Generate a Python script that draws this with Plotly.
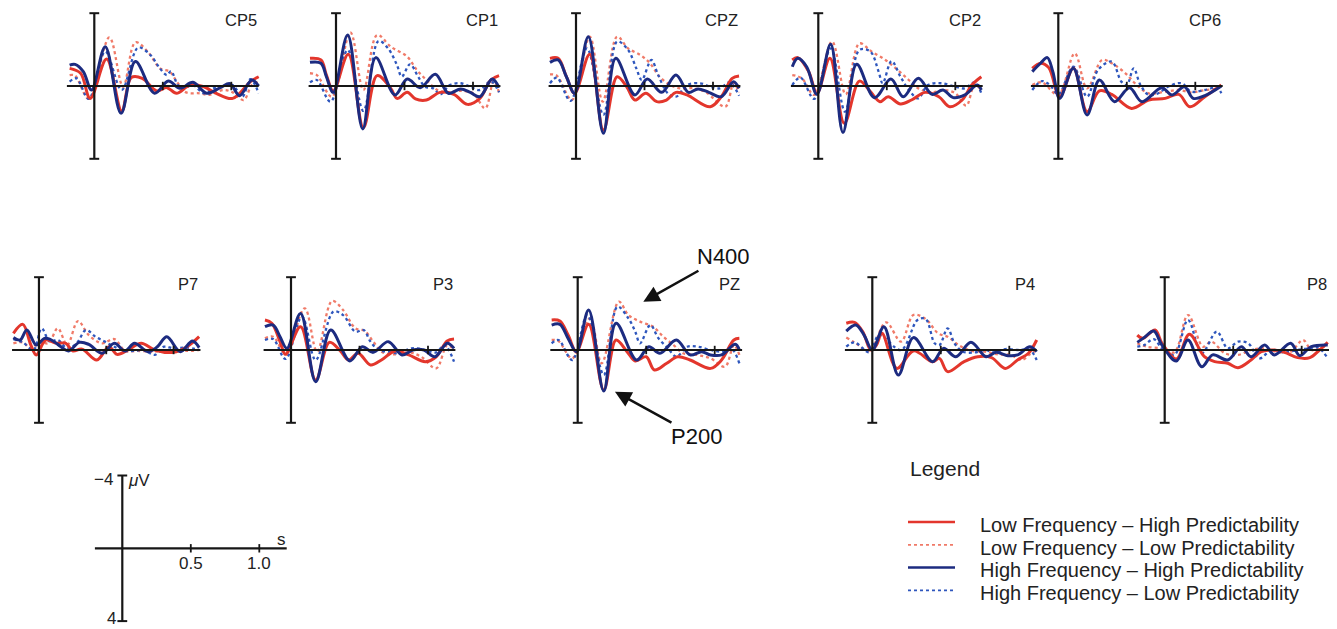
import plotly.graph_objects as go

# ================= DATA =================
# Each series: (time in s, amplitude in µV) key points.
# Negative amplitudes are plotted upward (ERP convention).
CP5_LFHP = [(-0.18,-0.97),(-0.10,-0.70),(-0.03,0.68),(0.09,-1.48),(0.20,1.37),(0.27,-0.46),(0.35,-0.42),(0.455,0.27),(0.53,0.09),(0.60,0.40),(0.70,-0.05),(0.80,0.04),(0.89,0.40),(1.01,0.68),(1.14,-0.24),(1.20,-0.51)]
CP5_LFLP = [(-0.18,-0.60),(-0.14,-0.57),(-0.04,0.71),(0.11,-2.67),(0.21,0.04),(0.30,-2.40),(0.39,-1.89),(0.48,-0.97),(0.55,-0.79),(0.61,-0.15),(0.67,0.35),(0.77,0.40),(0.84,0.49),(0.94,0.22),(1.01,0.35),(1.09,0.77),(1.15,-0.05),(1.20,-0.24)]
CP5_HFHP = [(-0.18,-1.15),(-0.14,-1.19),(-0.08,-0.79),(-0.02,0.22),(0.08,-2.16),(0.195,1.50),(0.30,-1.34),(0.44,0.40),(0.54,-0.27),(0.625,0.13),(0.72,-0.20),(0.82,0.40),(0.92,0.09),(0.99,-0.13),(1.06,0.53),(1.15,-0.33),(1.20,0.0)]
CP5_HFLP = [(-0.18,-0.24),(-0.13,-0.42),(-0.04,0.71),(0.08,-1.89),(0.20,0.22),(0.32,-2.11),(0.41,-1.70),(0.47,-1.06),(0.53,-0.60),(0.56,-0.82),(0.61,-0.05),(0.65,0.13),(0.72,-0.05),(0.80,0.40),(0.87,0.13),(0.94,0.02),(1.01,-0.05),(1.08,0.59),(1.14,-0.38),(1.20,0.40)]

CP1_LFHP = [(-0.19,-1.52),(-0.11,-1.43),(-0.07,-0.60),(-0.02,0.27),(0.09,-1.74),(0.20,2.29),(0.30,-0.57),(0.40,0.13),(0.445,0.68),(0.52,0.35),(0.58,0.71),(0.66,0.77),(0.76,0.35),(0.86,0.46),(0.96,1.01),(1.05,0.68),(1.13,-0.33),(1.19,-0.57)]
CP1_LFLP = [(-0.19,-0.70),(-0.14,-0.60),(-0.03,0.59),(0.105,-2.95),(0.20,0.22),(0.30,-2.80),(0.40,-2.16),(0.52,-1.61),(0.59,-0.88),(0.66,-0.33),(0.74,0.22),(0.81,0.35),(0.91,0.27),(1.00,0.40),(1.09,1.23),(1.15,-0.24),(1.19,0.35)]
CP1_HFHP = [(-0.19,-1.30),(-0.11,-1.25),(-0.07,-0.51),(-0.02,0.35),(0.085,-2.80),(0.195,2.36),(0.29,-1.56),(0.43,0.49),(0.52,-0.38),(0.615,0.09),(0.725,-0.64),(0.82,0.40),(0.91,0.16),(0.98,0.35),(1.05,0.59),(1.14,-0.38),(1.19,0.09)]
CP1_HFLP = [(-0.19,-0.20),(-0.14,-0.33),(-0.04,0.86),(0.085,-1.98),(0.20,1.37),(0.31,-2.47),(0.38,-2.07),(0.445,-1.15),(0.48,-0.51),(0.54,-1.19),(0.60,-0.51),(0.65,0.04),(0.71,0.13),(0.76,0.46),(0.83,-0.05),(0.91,-0.15),(0.98,0.04),(1.05,0.22),(1.13,-0.27),(1.19,0.35)]

CPZ_LFHP = [(-0.19,-1.52),(-0.13,-1.52),(-0.07,-0.51),(-0.01,0.40),(0.10,-1.74),(0.20,2.42),(0.30,-0.51),(0.37,0.04),(0.43,0.77),(0.51,0.40),(0.59,0.86),(0.66,0.77),(0.73,0.35),(0.81,0.49),(0.98,1.14),(1.06,0.59),(1.14,-0.42),(1.19,-0.55)]
CPZ_LFLP = [(-0.19,-0.64),(-0.14,-0.57),(-0.03,0.77),(0.10,-2.71),(0.195,0.86),(0.30,-2.71),(0.38,-2.07),(0.47,-1.70),(0.54,-1.25),(0.61,-0.51),(0.69,-0.05),(0.76,0.13),(0.86,0.13),(0.95,0.35),(1.09,1.14),(1.15,-0.15),(1.19,0.35)]
CPZ_HFHP = [(-0.19,-1.30),(-0.13,-1.43),(-0.07,-0.51),(-0.01,0.40),(0.09,-2.71),(0.20,2.60),(0.29,-1.52),(0.43,0.49),(0.52,-0.38),(0.625,0.35),(0.73,-0.60),(0.82,0.35),(0.89,0.16),(0.97,0.35),(1.06,0.59),(1.15,-0.24),(1.19,0.13)]
CPZ_HFLP = [(-0.19,-0.15),(-0.14,-0.46),(-0.04,0.82),(0.08,-2.07),(0.20,1.59),(0.30,-2.44),(0.38,-1.98),(0.44,-0.97),(0.48,-0.33),(0.55,-1.43),(0.60,-0.60),(0.67,0.40),(0.73,0.59),(0.81,-0.05),(0.905,-0.15),(0.98,0.04),(1.05,0.13),(1.12,-0.20),(1.19,0.53)]

CP2_LFHP = [(-0.19,-1.43),(-0.15,-1.56),(-0.07,-0.79),(-0.01,0.40),(0.085,-1.52),(0.19,2.05),(0.30,-0.27),(0.38,0.31),(0.45,0.86),(0.51,0.59),(0.60,0.99),(0.68,0.77),(0.78,0.35),(0.88,0.59),(0.96,1.14),(1.05,0.77),(1.12,-0.05),(1.19,-0.51)]
CP2_LFLP = [(-0.19,-0.60),(-0.12,-0.42),(-0.03,0.49),(0.10,-2.44),(0.20,0.46),(0.30,-2.34),(0.39,-1.89),(0.49,-1.43),(0.58,-0.88),(0.66,-0.33),(0.73,0.13),(0.83,0.35),(0.92,0.22),(1.00,0.40),(1.08,1.08),(1.14,-0.05),(1.19,0.22)]
CP2_HFHP = [(-0.19,-1.06),(-0.15,-1.52),(-0.085,-1.06),(-0.01,0.46),(0.09,-2.29),(0.18,2.55),(0.28,-1.19),(0.41,0.64),(0.53,-0.38),(0.62,0.59),(0.73,-0.42),(0.83,0.46),(0.91,0.22),(0.985,0.64),(1.07,0.49),(1.16,-0.05),(1.19,0.22)]
CP2_HFLP = [(-0.19,-0.05),(-0.13,-0.46),(-0.03,0.71),(0.09,-2.07),(0.195,1.41),(0.30,-1.98),(0.38,-1.89),(0.44,-0.79),(0.47,-0.15),(0.535,-1.37),(0.60,-0.51),(0.67,0.31),(0.73,0.68),(0.80,-0.05),(0.90,-0.15),(1.00,0.04),(1.07,0.13),(1.14,-0.20),(1.19,0.40)]

CP6_LFHP = [(-0.19,-0.97),(-0.13,-1.25),(-0.07,-1.01),(0.01,0.59),(0.11,-0.97),(0.21,1.41),(0.30,0.27),(0.39,0.46),(0.535,1.23),(0.66,0.77),(0.78,0.68),(0.88,0.46),(0.96,1.14),(1.07,0.59),(1.19,-0.05)]
CP6_LFLP = [(-0.19,-0.05),(-0.12,-0.20),(0.0,0.49),(0.12,-1.79),(0.21,0.13),(0.32,-1.43),(0.39,-1.25),(0.49,-0.70),(0.56,-0.15),(0.66,0.40),(0.78,0.31),(0.88,0.22),(0.97,0.35),(1.07,0.22),(1.16,0.13),(1.19,-0.05)]
CP6_HFHP = [(-0.19,-0.79),(-0.13,-1.25),(-0.08,-1.56),(-0.04,-0.79),(0.01,0.68),(0.11,-0.97),(0.21,1.59),(0.30,-0.33),(0.41,0.86),(0.52,0.09),(0.61,0.86),(0.755,0.09),(0.83,0.49),(0.92,0.04),(0.985,0.68),(1.07,0.53),(1.19,0.0)]
CP6_HFLP = [(-0.19,0.22),(-0.12,-0.27),(-0.06,-0.05),(0.0,0.46),(0.11,-1.06),(0.21,0.59),(0.29,-0.88),(0.39,-1.34),(0.46,-0.24),(0.50,-0.05),(0.55,-0.97),(0.60,-0.05),(0.66,0.49),(0.73,0.40),(0.80,0.04),(0.90,-0.15),(0.97,0.31),(1.07,0.22),(1.16,0.09),(1.19,0.40)]

P7_LFHP = [(-0.19,-0.92),(-0.12,-1.41),(-0.06,-0.27),(-0.02,0.27),(0.05,-0.55),(0.13,-0.37),(0.20,-0.37),(0.25,0.05),(0.32,-0.05),(0.43,0.55),(0.52,-0.18),(0.58,0.24),(0.66,0.0),(0.76,-0.37),(0.86,0.0),(1.00,0.13),(1.10,-0.18),(1.19,-0.73)]
P7_LFLP = [(-0.19,-0.37),(-0.12,-0.42),(-0.06,-0.09),(0.005,-0.46),(0.07,-0.37),(0.14,-1.19),(0.21,-0.27),(0.29,-1.59),(0.37,-0.82),(0.47,-0.37),(0.56,-0.60),(0.64,0.05),(0.73,0.05),(0.86,0.09),(1.00,0.0),(1.10,0.05),(1.19,0.0)]
P7_HFHP = [(-0.19,-0.68),(-0.14,-0.55),(-0.09,-1.10),(-0.02,-0.27),(0.04,-0.64),(0.08,-0.60),(0.14,-0.31),(0.22,0.05),(0.30,-0.42),(0.37,-0.31),(0.47,0.18),(0.56,-0.37),(0.64,0.05),(0.71,-0.37),(0.81,0.09),(0.88,-0.18),(0.95,-0.73),(1.05,0.09),(1.14,-0.49),(1.19,-0.13)]
P7_HFLP = [(-0.19,-0.60),(-0.12,-0.42),(-0.04,0.0),(0.02,-1.19),(0.08,-0.46),(0.14,-0.55),(0.21,-0.09),(0.28,-0.37),(0.35,-1.10),(0.42,-0.73),(0.49,-0.46),(0.56,-0.18),(0.64,0.05),(0.71,0.05),(0.78,0.0),(0.86,0.27),(0.93,-0.18),(1.00,-0.09),(1.10,-0.13),(1.19,0.0)]

P3_LFHP = [(-0.19,-1.65),(-0.14,-1.47),(-0.08,-0.46),(-0.04,0.24),(0.07,-1.28),(0.18,1.65),(0.28,-0.42),(0.36,0.05),(0.42,0.55),(0.49,0.18),(0.58,0.82),(0.66,0.55),(0.76,0.05),(0.86,0.27),(0.98,0.64),(1.06,0.37),(1.14,-0.49),(1.19,-0.60)]
P3_LFLP = [(-0.19,-0.64),(-0.13,-0.73),(-0.04,0.18),(0.10,-2.29),(0.19,0.09),(0.30,-2.69),(0.38,-2.20),(0.47,-1.19),(0.54,-1.04),(0.60,-0.46),(0.67,0.13),(0.76,0.24),(0.86,0.13),(0.95,0.37),(1.06,1.01),(1.14,-0.27),(1.19,0.0)]
P3_HFHP = [(-0.19,-1.28),(-0.13,-1.37),(-0.08,-0.73),(-0.03,-0.09),(0.07,-2.01),(0.18,1.74),(0.29,-1.10),(0.43,0.60),(0.52,-0.18),(0.60,0.13),(0.71,-0.46),(0.81,0.27),(0.89,0.0),(0.97,0.0),(1.05,0.37),(1.14,-0.37),(1.19,-0.09)]
P3_HFLP = [(-0.19,-0.55),(-0.13,-0.60),(-0.04,0.49),(0.08,-1.83),(0.18,0.55),(0.31,-2.11),(0.38,-1.92),(0.47,-1.01),(0.53,-1.10),(0.58,-0.46),(0.64,0.0),(0.71,0.09),(0.78,0.18),(0.88,-0.09),(0.98,0.0),(1.06,0.13),(1.12,-0.27),(1.19,0.64)]

PZ_LFHP = [(-0.19,-1.65),(-0.13,-1.59),(-0.07,-0.82),(-0.01,0.09),(0.08,-1.41),(0.19,2.20),(0.28,-0.55),(0.36,0.09),(0.42,0.60),(0.50,0.37),(0.56,1.10),(0.65,0.73),(0.73,0.37),(0.82,0.55),(0.97,1.01),(1.05,0.55),(1.14,-0.55),(1.18,-0.64)]
PZ_LFLP = [(-0.19,-0.55),(-0.14,-0.49),(-0.04,0.46),(0.09,-1.74),(0.175,0.73),(0.30,-2.66),(0.37,-1.92),(0.455,-1.56),(0.55,-1.28),(0.625,-0.73),(0.70,-0.27),(0.77,0.18),(0.87,0.27),(0.97,0.46),(1.075,0.92),(1.14,-0.27),(1.18,0.27)]
PZ_HFHP = [(-0.19,-1.37),(-0.13,-1.41),(-0.07,-0.64),(-0.01,0.09),(0.08,-2.20),(0.19,2.25),(0.28,-1.47),(0.43,0.55),(0.52,-0.18),(0.60,0.18),(0.72,-0.55),(0.82,0.27),(0.905,0.09),(0.97,0.27),(1.05,0.27),(1.15,-0.31),(1.18,0.0)]
PZ_HFLP = [(-0.19,-0.37),(-0.14,-0.55),(-0.04,0.55),(0.07,-1.92),(0.19,1.37),(0.29,-2.38),(0.37,-1.74),(0.42,-1.01),(0.455,-0.37),(0.53,-1.37),(0.59,-0.64),(0.66,-0.09),(0.72,0.37),(0.80,-0.18),(0.88,-0.18),(0.97,0.0),(1.05,0.09),(1.12,-0.09),(1.18,0.73)]

P4_LFHP = [(-0.19,-1.47),(-0.13,-1.52),(-0.07,-1.01),(-0.01,0.0),(0.03,-0.27),(0.07,-0.92),(0.18,1.01),(0.30,0.05),(0.44,0.64),(0.49,0.46),(0.55,1.19),(0.67,0.64),(0.77,0.37),(0.87,0.42),(0.97,1.01),(1.06,0.55),(1.14,0.18),(1.20,-0.55)]
P4_LFLP = [(-0.19,-0.68),(-0.13,-0.42),(-0.02,0.05),(0.10,-1.52),(0.21,-0.46),(0.30,-1.92),(0.39,-1.70),(0.48,-0.92),(0.55,-0.73),(0.63,-0.27),(0.72,0.05),(0.82,0.09),(0.92,0.24),(1.01,0.27),(1.09,0.55),(1.15,0.24),(1.20,0.0)]
P4_HFHP = [(-0.19,-1.04),(-0.12,-1.37),(-0.06,-0.82),(0.0,0.0),(0.085,-1.28),(0.19,1.37),(0.30,-0.68),(0.44,0.64),(0.52,-0.09),(0.61,0.37),(0.72,-0.42),(0.83,0.37),(0.905,0.13),(0.99,0.31),(1.06,0.27),(1.15,-0.18),(1.20,0.09)]
P4_HFLP = [(-0.19,-0.18),(-0.13,-0.42),(-0.02,0.13),(0.05,-0.82),(0.21,0.0),(0.33,-1.65),(0.39,-1.70),(0.455,-0.37),(0.49,-0.27),(0.55,-1.19),(0.60,-0.37),(0.66,0.09),(0.75,0.13),(0.82,0.0),(0.89,0.13),(0.97,-0.05),(1.06,0.0),(1.15,0.0),(1.20,0.55)]

P8_LFHP = [(-0.20,-0.82),(-0.16,-0.64),(-0.07,-1.10),(-0.02,-0.37),(0.085,0.49),(0.18,-0.86),(0.29,0.37),(0.365,0.64),(0.46,0.73),(0.535,0.97),(0.63,0.55),(0.705,0.09),(0.80,0.0),(0.875,0.13),(0.97,0.42),(1.06,0.42),(1.13,0.0),(1.19,-0.42)]
P8_LFLP = [(-0.20,-0.37),(-0.13,-0.18),(-0.02,-0.09),(0.07,0.13),(0.17,-1.92),(0.28,-0.18),(0.34,-0.46),(0.44,0.18),(0.535,0.27),(0.63,0.0),(0.73,-0.09),(0.83,0.13),(0.92,0.09),(1.01,-0.55),(1.07,0.0),(1.13,-0.09),(1.19,-0.27)]
P8_HFHP = [(-0.20,-0.42),(-0.15,-0.68),(-0.08,-1.04),(-0.02,-0.27),(0.085,0.60),(0.17,-0.55),(0.27,0.92),(0.35,0.27),(0.46,0.55),(0.56,-0.18),(0.63,0.37),(0.73,-0.27),(0.80,0.27),(0.92,-0.37),(0.985,0.31),(1.07,-0.18),(1.19,-0.27)]
P8_HFLP = [(-0.20,-0.18),(-0.15,-0.27),(-0.08,-0.60),(-0.02,-0.09),(0.07,0.27),(0.17,-1.65),(0.27,0.18),(0.38,-1.01),(0.46,-0.09),(0.535,-0.46),(0.61,-0.37),(0.69,0.46),(0.78,0.0),(0.875,0.13),(0.97,0.0),(1.05,-0.09),(1.12,-0.13),(1.19,0.46)]

CONDITIONS = [
    "Low Frequency – High Predictability",
    "Low Frequency – Low Predictability",
    "High Frequency – High Predictability",
    "High Frequency – Low Predictability",
]
CHANNELS = ["CP5", "CP1", "CPZ", "CP2", "CP6", "P7", "P3", "PZ", "P4", "P8"]
SERIES = {
    "CP5": [CP5_LFHP, CP5_LFLP, CP5_HFHP, CP5_HFLP],
    "CP1": [CP1_LFHP, CP1_LFLP, CP1_HFHP, CP1_HFLP],
    "CPZ": [CPZ_LFHP, CPZ_LFLP, CPZ_HFHP, CPZ_HFLP],
    "CP2": [CP2_LFHP, CP2_LFLP, CP2_HFHP, CP2_HFLP],
    "CP6": [CP6_LFHP, CP6_LFLP, CP6_HFHP, CP6_HFLP],
    "P7": [P7_LFHP, P7_LFLP, P7_HFHP, P7_HFLP],
    "P3": [P3_LFHP, P3_LFLP, P3_HFHP, P3_HFLP],
    "PZ": [PZ_LFHP, PZ_LFLP, PZ_HFHP, PZ_HFLP],
    "P4": [P4_LFHP, P4_LFLP, P4_HFHP, P4_HFLP],
    "P8": [P8_LFHP, P8_LFLP, P8_HFHP, P8_HFLP],
}
TIME_LIMITS = [-0.2, 1.2]      # s, extent of the time axis
AMP_LIMITS = [-4, 4]           # µV, extent of the amplitude axis
TIME_TICKS = [0.5, 1.0]
TIME_TICK_LABELS = ["0.5", "1.0"]
COMPONENTS = [("N400", 0.479, -2.65), ("P200", 0.272, 2.29)]   # label, time, amplitude (PZ)

# ================= STYLE / LAYOUT =================
PAGE_W, PAGE_H = 1337, 629
BODY_MARGIN = 8                       # default page margin around the plot div
W, H = PAGE_W - BODY_MARGIN, PAGE_H - BODY_MARGIN
S_PX = 137.0      # pixels per second
UV_PX = 18.2      # pixels per µV
PAD_T = 0.03
PAD_V = 0.15
ORIGINS = {  # page-pixel position of (0 s, 0 µV) of each panel
    "CP5": (94.3, 86.0), "CP1": (336.0, 86.0), "CPZ": (576.0, 86.0),
    "CP2": (818.3, 86.0), "CP6": (1058.3, 86.0),
    "P7": (36.0, 350.0), "P3": (291.0, 350.0), "PZ": (577.7, 350.0),
    "P4": (872.3, 350.0), "P8": (1164.7, 350.0),
}
SCALE_ORIGIN = (122.3, 548.3)
COLORS = ["#e3362c", "#f07a68", "#1c2b80", "#2e56bd"]
DASHES = ["solid", "dot", "solid", "dot"]
WIDTHS = [3.0, 2.3, 3.0, 2.3]
DRAW_ORDER = [1, 3, 0, 2]
AX_COLOR = "#161616"
FONT = "Liberation Sans, Arial, Helvetica, sans-serif"


def clamp(v):
    return min(1.0, max(0.0, v))


def px_x(px):
    return clamp((px - BODY_MARGIN) / W)


def px_y(py):
    return clamp(1 - (py - BODY_MARGIN) / H)


fig = go.Figure()
layout = {}
annotations = []


def make_axes(idx, origin):
    ox, oy = origin
    t0, t1 = TIME_LIMITS[0] - PAD_T, TIME_LIMITS[1] + PAD_T
    v = AMP_LIMITS[1] + PAD_V
    sfx = "" if idx == 1 else str(idx)
    layout["xaxis" + sfx] = dict(domain=[px_x(ox + t0 * S_PX), px_x(ox + t1 * S_PX)],
                                 range=[t0, t1], visible=False, fixedrange=True, anchor="y" + sfx)
    layout["yaxis" + sfx] = dict(domain=[px_y(oy + v * UV_PX), px_y(oy - v * UV_PX)],
                                 range=[v, -v], visible=False, fixedrange=True, anchor="x" + sfx)
    return "x" + sfx, "y" + sfx


def add_axis_cross(xa, ya):
    common = dict(xaxis=xa, yaxis=ya, hoverinfo="skip", showlegend=False, cliponaxis=False)
    fig.add_trace(go.Scatter(x=TIME_LIMITS, y=[0, 0], mode="lines",
                             line=dict(color=AX_COLOR, width=2.2), **common))
    fig.add_trace(go.Scatter(x=[0, 0], y=AMP_LIMITS, mode="lines",
                             line=dict(color=AX_COLOR, width=2.2), **common))
    fig.add_trace(go.Scatter(x=[0, 0], y=AMP_LIMITS, mode="markers",
                             marker=dict(symbol="line-ew", size=7, line=dict(width=2, color=AX_COLOR)), **common))
    fig.add_trace(go.Scatter(x=TIME_TICKS, y=[0] * len(TIME_TICKS), mode="markers",
                             marker=dict(symbol="line-ns", size=6, line=dict(width=1.8, color=AX_COLOR)), **common))


for i, ch in enumerate(CHANNELS):
    xa, ya = make_axes(i + 1, ORIGINS[ch])
    for k in DRAW_ORDER:
        pts = SERIES[ch][k]
        fig.add_trace(go.Scatter(
            x=[p[0] for p in pts], y=[p[1] for p in pts], mode="lines",
            line=dict(color=COLORS[k], width=WIDTHS[k], dash=DASHES[k], shape="spline", smoothing=1.0),
            name=CONDITIONS[k], xaxis=xa, yaxis=ya, showlegend=False, hoverinfo="skip"))
    add_axis_cross(xa, ya)
    annotations.append(dict(text=ch, x=TIME_LIMITS[1], y=-3.62, xref=xa, yref=ya,
                            xanchor="right", yanchor="middle", showarrow=False,
                            font=dict(size=16.5, color="#222", family=FONT)))
    if ch == "PZ":
        for (lab, tt, vv), (dx, dy) in zip(COMPONENTS, [(80, -45), (82, 45)]):
            annotations.append(dict(text=lab, x=tt, y=vv, xref=xa, yref=ya, ax=dx, ay=dy,
                                    showarrow=True, arrowhead=2, arrowsize=1.3, arrowwidth=2.5,
                                    arrowcolor="#111", font=dict(size=22, color="#111", family=FONT)))

# ---- scale bar ----
sx, sy = make_axes(11, SCALE_ORIGIN)
add_axis_cross(sx, sy)
lab_font = dict(size=17, color="#222", family=FONT)
annotations += [
    dict(text="−4", x=-0.05, y=AMP_LIMITS[0] + 0.2, xref=sx, yref=sy, xanchor="right", yanchor="middle", showarrow=False, font=lab_font),
    dict(text="<i>μ</i>V", x=0.03, y=AMP_LIMITS[0] + 0.3, xref=sx, yref=sy, xanchor="left", yanchor="middle", showarrow=False, font=lab_font),
    dict(text="4", x=-0.03, y=AMP_LIMITS[1] - 0.15, xref=sx, yref=sy, xanchor="right", yanchor="middle", showarrow=False, font=lab_font),
    dict(text="s", x=1.16, y=-0.5, xref=sx, yref=sy, xanchor="center", yanchor="middle", showarrow=False, font=lab_font),
]
for tv, tl in zip(TIME_TICKS, TIME_TICK_LABELS):
    annotations.append(dict(text=tl, x=tv, y=0.85, xref=sx, yref=sy, xanchor="center", yanchor="middle",
                            showarrow=False, font=lab_font))

# ---- legend (drawn on its own small axis) ----
LEG_X0, LEG_X1, LEG_TEXT_X = 908, 955, 978
LEG_ROW0, LEG_ROW_STEP = 522.0, 22.8
lx, ly = "x12", "y12"
n = len(CONDITIONS)
top_px = LEG_ROW0 - LEG_ROW_STEP / 2
bot_px = LEG_ROW0 + LEG_ROW_STEP * (n - 0.5)
layout["xaxis12"] = dict(domain=[px_x(LEG_X0), px_x(LEG_X1)], range=[0, 1], visible=False, fixedrange=True, anchor="y12")
layout["yaxis12"] = dict(domain=[px_y(bot_px), px_y(top_px)], range=[n - 0.5, -0.5], visible=False,
                         fixedrange=True, anchor="x12")
for k, name in enumerate(CONDITIONS):
    fig.add_trace(go.Scatter(x=[0, 1], y=[k, k], mode="lines", xaxis=lx, yaxis=ly,
                             line=dict(color=COLORS[k], width=WIDTHS[k] - 0.5, dash=DASHES[k]),
                             showlegend=False, hoverinfo="skip"))
    annotations.append(dict(text=name, x=px_x(LEG_TEXT_X), y=k + 0.12, xref="paper", yref=ly,
                            xanchor="left", yanchor="middle", showarrow=False,
                            font=dict(size=20, color="#222", family=FONT)))
annotations.append(dict(text="Legend", x=px_x(LEG_X0), y=px_y(468), xref="paper", yref="paper",
                        xanchor="left", yanchor="middle", showarrow=False,
                        font=dict(size=21, color="#222", family=FONT)))

fig.update_layout(
    width=W, height=H, autosize=False,
    margin=dict(l=0, r=0, t=0, b=0),
    paper_bgcolor="white", plot_bgcolor="rgba(0,0,0,0)",
    showlegend=False, annotations=annotations,
    font=dict(family=FONT),
    **layout,
)

fig.write_html("out.html")
